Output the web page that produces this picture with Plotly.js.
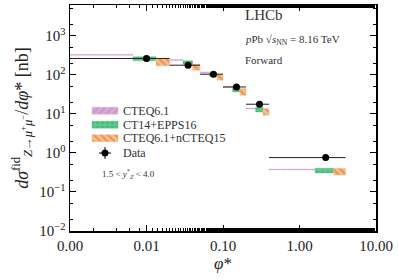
<!DOCTYPE html>
<html><head><meta charset="utf-8">
<script src="https://cdn.plot.ly/plotly-3.0.1.min.js"></script>
<style>html,body{margin:0;padding:0;background:#fff}#c{width:398px;height:280px}</style>
</head><body><div id="c"></div>
<script>
// phi* bin edges
const binEdges = [0, 0.02, 0.05, 0.1, 0.2, 0.4, 4.0];
// measured data [nb]
const dataVals = [263, 177, 104, 49, 17.7, 0.76];
const dataErr  = [8, 6, 4, 2, 0.8, 0.05];
// model predictions (band low / high)
const cteqLo = [316, 233, 111, 47.5, 13.3, 0.365];
const cteqHi = [336, 247, 119, 50.5, 14.1, 0.385];
const eppsLo = [229, 188, 92.7, 36.6, 11.2, 0.307];
const eppsHi = [290, 229, 109, 49.2, 14.6, 0.405];
const ncteqLo = [170, 132, 73, 30.1, 9.27, 0.273];
const ncteqHi = [264, 188, 104, 44.8, 13.7, 0.405];
const xTickVals = [0.001, 0.01, 0.1, 1, 10];
const xTickText = ["0.00", "0.01", "0.10", "1.00", "10.00"];
const yTickVals = [0.01, 0.1, 1, 10, 100, 1000];
const yTickText = ["10<sup>−2</sup>", "10<sup>−1</sup>", "10<sup>0</sup>", "10<sup>1</sup>", "10<sup>2</sup>", "10<sup>3</sup>"];
const legendNames = ["CTEQ6.1", "CT14+EPPS16", "CTEQ6.1+nCTEQ15", "Data"];

const LOG_ZERO = 1e-5; // stand-in for phi*=0 on the log axis
const pos = v => (v <= 0 ? LOG_ZERO : v);
const nb = binEdges.length - 1;

function band(k, lo, hi) {
  const xs = [], ys = [];
  for (let i = 0; i < nb; i++) {
    const a = binEdges[i], b = binEdges[i + 1], w = (b - a) / 3;
    const x0 = pos(a + k * w), x1 = a + (k + 1) * w;
    xs.push(x0, x1, x1, x0, x0, null);
    ys.push(lo[i], lo[i], hi[i], hi[i], lo[i], null);
  }
  return {xs, ys};
}

const serif = "Liberation Serif, DejaVu Serif, serif";
const txt = "#333";
const traces = [];
const models = [
  {name: legendNames[0], lo: cteqLo, hi: cteqHi, fill: "#bba0dc", fg: "#f3a3c4", shape: "/", line: "#e6b3d0"},
  {name: legendNames[1], lo: eppsLo, hi: eppsHi, fill: "#5cc98c", fg: "#4db87c", shape: ".", line: "#5cc98c"},
  {name: legendNames[2], lo: ncteqLo, hi: ncteqHi, fill: "#fbbf8a", fg: "#e6965a", shape: "\\", line: "#fbbf8a"}
];
models.forEach((m, k) => {
  const b = band(k, m.lo, m.hi);
  traces.push({
    type: "scatter", mode: "lines", x: b.xs, y: b.ys, name: m.name, showlegend: false,
    fill: "toself", fillcolor: m.fill,
    fillpattern: {shape: m.shape, bgcolor: m.fill, fgcolor: m.fg, size: 5, solidity: 0.45},
    line: {width: 0.5, color: m.line}, hoverinfo: "skip"
  });
});
// data horizontal bin-width bars
const hx = [], hy = [];
for (let i = 0; i < nb; i++) { hx.push(pos(binEdges[i]), binEdges[i + 1], null); hy.push(dataVals[i], dataVals[i], null); }
traces.push({type: "scatter", mode: "lines", x: hx, y: hy, line: {color: "#222", width: 1}, showlegend: false, hoverinfo: "skip"});
const centers = [];
for (let i = 0; i < nb; i++) centers.push((binEdges[i] + binEdges[i + 1]) / 2);
traces.push({
  type: "scatter", mode: "markers", x: centers, y: dataVals, name: "Data", showlegend: false,
  marker: {color: "#000", size: 7},
  error_y: {type: "data", array: dataErr, color: "#000", thickness: 1, width: 0}
});

// legend drawn on an overlay axis measured in plot pixels
const LX0 = 92, LX1 = 118, LTX = 121, LROWS = [110.7, 124.7, 138.2, 153], LH = 3.5;
models.forEach((m, k) => {
  const y = LROWS[k];
  traces.push({
    type: "scatter", mode: "lines", xaxis: "x2", yaxis: "y2", showlegend: false, hoverinfo: "skip",
    x: [LX0, LX1, LX1, LX0, LX0], y: [y - LH, y - LH, y + LH, y + LH, y - LH],
    fill: "toself", fillcolor: m.fill,
    fillpattern: {shape: m.shape, bgcolor: m.fill, fgcolor: m.fg, size: 5, solidity: 0.45},
    line: {width: 0.5, color: m.line}
  });
});
traces.push({
  type: "scatter", mode: "markers", xaxis: "x2", yaxis: "y2", showlegend: false, hoverinfo: "skip",
  x: [(LX0 + LX1) / 2], y: [LROWS[3]], marker: {color: "#000", size: 7},
  error_x: {type: "constant", value: 6, color: "#000", thickness: 1, width: 0},
  error_y: {type: "constant", value: 6, color: "#000", thickness: 1, width: 0}
});

const axisCommon = {
  type: "log", showgrid: false, zeroline: false, showline: true, linecolor: "#000", linewidth: 1.5,
  mirror: "ticks", ticks: "inside", ticklen: 6, tickwidth: 1, tickcolor: "#000",
  tickfont: {family: serif, size: 15, color: "#222"},
  minor: {ticks: "inside", ticklen: 3, tickcolor: "#000", showgrid: false}
};

const annotations = [
  {xref: "paper", yref: "paper", x: 0.565, y: 0.955, xanchor: "left", yanchor: "middle", showarrow: false,
   text: "LHCb", font: {family: serif, size: 15, color: txt}},
  {xref: "paper", yref: "paper", x: 0.565, y: 0.845, xanchor: "left", yanchor: "middle", showarrow: false,
   text: "<i>p</i>Pb √<i>s</i><sub>NN</sub> = 8.16 TeV", font: {family: serif, size: 11, color: txt}},
  {xref: "paper", yref: "paper", x: 0.565, y: 0.755, xanchor: "left", yanchor: "middle", showarrow: false,
   text: "Forward", font: {family: serif, size: 11, color: txt}},
  {xref: "x2", yref: "y2", x: 100, y: 173, xanchor: "left", yanchor: "middle", showarrow: false,
   text: "1.5 < <i>y</i><sup>*</sup><sub><i>Z</i></sub> < 4.0", font: {family: serif, size: 9, color: txt}}
];
legendNames.forEach((n, k) => annotations.push({
  xref: "x2", yref: "y2", x: LTX, y: LROWS[k], xanchor: "left", yanchor: "middle", showarrow: false,
  text: n, font: {family: serif, size: 12, color: txt}
}));

const layout = {
  width: 398, height: 280,
  margin: {l: 70, r: 22, t: 5, b: 49},
  paper_bgcolor: "#fff", plot_bgcolor: "#fff",
  showlegend: false,
  xaxis: Object.assign({}, axisCommon, {
    range: [-3, 1], tickmode: "array", tickvals: xTickVals, ticktext: xTickText,
    title: {text: "<i>φ</i>*", font: {family: serif, size: 17, color: "#222"}, standoff: 4}
  }),
  yaxis: Object.assign({}, axisCommon, {
    range: [-2, 3.79], tickmode: "array", tickvals: yTickVals, ticktext: yTickText,
    title: {text: "<i>dσ</i><sup>fid</sup><sub><i>Z</i>→<i>μ</i><sup>+</sup><i>μ</i><sup>−</sup></sub>/<i>dφ</i>* [nb]",
            font: {family: serif, size: 18, color: "#222"}, standoff: 6}
  }),
  xaxis2: {overlaying: "x", anchor: "y2", range: [70, 376], visible: false, fixedrange: true},
  yaxis2: {overlaying: "y", anchor: "x2", range: [231, 5], visible: false, fixedrange: true},
  annotations: annotations
};
Plotly.newPlot("c", traces, layout, {staticPlot: true, displayModeBar: false});
</script></body></html>
